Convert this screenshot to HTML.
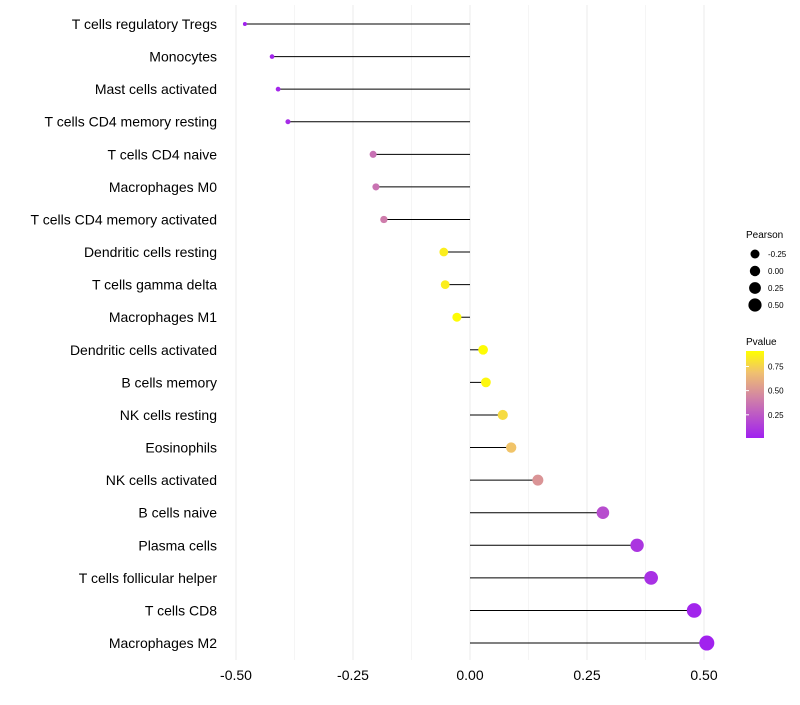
<!DOCTYPE html>
<html><head><meta charset="utf-8"><style>
body{margin:0;background:#fff;}
svg{font-family:"Liberation Sans",Arial,sans-serif;}
</style></head><body>
<svg id="chart" width="800" height="700">
<defs><linearGradient id="pg" x1="0" y1="1" x2="0" y2="0">
<stop offset="0" stop-color="#A020F0"/><stop offset="0.45" stop-color="#D080A8"/><stop offset="0.75" stop-color="#F0C070"/><stop offset="1" stop-color="#FFFF00"/>
</linearGradient></defs>
<g id="grid"></g><g id="marks"></g><g id="labels"></g><g id="legend"></g>
</svg>
<script>
const categories=["T cells regulatory  Tregs","Monocytes","Mast cells activated","T cells CD4 memory resting","T cells CD4 naive","Macrophages M0","T cells CD4 memory activated","Dendritic cells resting","T cells gamma delta","Macrophages M1","Dendritic cells activated","B cells memory","NK cells resting","Eosinophils","NK cells activated","B cells naive","Plasma cells","T cells follicular helper","T cells CD8","Macrophages M2"];
const pearson=[-0.481,-0.423,-0.41,-0.389,-0.207,-0.201,-0.184,-0.056,-0.053,-0.028,0.028,0.034,0.07,0.088,0.145,0.284,0.357,0.387,0.479,0.506];
const pvalue=[0.02,0.03,0.04,0.06,0.35,0.36,0.4,0.85,0.85,0.9,0.9,0.88,0.78,0.7,0.5,0.2,0.1,0.08,0.03,0.02];
const xTicks=[-0.5,-0.25,0,0.25,0.5];
const xTickLabels=["-0.50","-0.25","0.00","0.25","0.50"];
const sizeLegend=[-0.25,0,0.25,0.5];
const sizeLegendLabels=["-0.25","0.00","0.25","0.50"];
const pTicks=[0.25,0.5,0.75];
const pTickLabels=["0.25","0.50","0.75"];
const NS="http://www.w3.org/2000/svg";
const x=v=>470+v*468;
const y=i=>24+i*32.58;
const rad=v=>2+(v+0.48)*5.6;
const stops=[[0,[160,32,240]],[0.45,[208,128,168]],[0.75,[240,192,112]],[1,[255,255,0]]];
function col(p){const t=Math.max(0,Math.min(1,(p-0.01)/0.9));for(let k=1;k<stops.length;k++){if(t<=stops[k][0]){const a=stops[k-1],b=stops[k],f=(t-a[0])/(b[0]-a[0]);return "rgb("+a[1].map((c,j)=>Math.round(c+(b[1][j]-c)*f)).join(",")+")";}}return "rgb(255,255,0)";}
function mk(tag,attrs,parent,text){const e=document.createElementNS(NS,tag);for(const k in attrs)e.setAttribute(k,attrs[k]);if(text!==undefined)e.textContent=text;document.getElementById(parent).appendChild(e);return e;}
for(let v=-0.5;v<=0.5001;v+=0.125){const g=mk("line",{x1:x(v),x2:x(v),y1:5,y2:660,stroke:Math.abs(v*4-Math.round(v*4))<1e-6?"#ebebeb":"#f5f5f5","stroke-width":1},"grid");

}
xTicks.forEach((v,i)=>{const t=mk("text",{x:x(v),y:680,"text-anchor":"middle","font-size":14,fill:"#000"},"labels",xTickLabels[i]);

});
categories.forEach((c,i)=>{
const l=mk("line",{x1:x(0),x2:x(pearson[i]),y1:y(i),y2:y(i),stroke:"#000","stroke-width":1},"marks");


const d=mk("circle",{cx:x(pearson[i]),cy:y(i),r:rad(pearson[i]),fill:col(pvalue[i])},"marks");


const t=mk("text",{x:217,y:y(i)+5,"text-anchor":"end","font-size":14,fill:"#000"},"labels",c);

});
const lt=mk("text",{x:746,y:238,"font-size":10},"legend","Pearson");


sizeLegend.forEach((v,i)=>{const cy=254+i*17;
const c=mk("circle",{cx:755,cy:cy,r:4.5+i*0.7,fill:"#000"},"legend");


const t=mk("text",{x:768,y:cy+3,"font-size":8},"legend",sizeLegendLabels[i]);

});
const pt=mk("text",{x:746,y:345,"font-size":10},"legend","Pvalue");


const cb=mk("rect",{x:746,y:351,width:18,height:87,fill:"url(#pg)"},"legend");


const py=p=>438-(p-0.01)/0.9*87;
pTicks.forEach((p,i)=>{
const tk=mk("line",{x1:746,x2:749,y1:py(p),y2:py(p),stroke:"#fff"},"legend");


const t=mk("text",{x:768,y:py(p)+3,"font-size":8},"legend",pTickLabels[i]);

});
</script>
</body></html>
